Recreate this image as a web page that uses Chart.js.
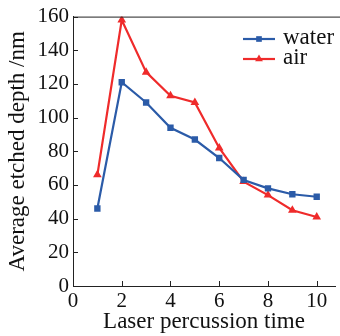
<!DOCTYPE html>
<html>
<head>
<meta charset="utf-8">
<script src="https://cdn.jsdelivr.net/npm/chart.js@4.4.0/dist/chart.umd.min.js"></script>
<style>
  html, body { margin: 0; padding: 0; background: #fff; }
  #wrap { width: 340px; height: 336px; }
</style>
</head>
<body>
<div id="wrap"><canvas id="plot" width="340" height="336"></canvas></div>
<script>
// laser percussion time (x) and etched depth (nm)
var times = [1, 2, 3, 4, 5, 6, 7, 8, 9, 10];
var waterDepth = [46, 121, 109, 94, 87, 76, 63, 58, 54.5, 53];
var airDepth = [66, 158, 127, 113, 109, 82, 62, 54, 45, 41];
var xTicks = [0, 2, 4, 6, 8, 10];
var yTicks = [0, 20, 40, 60, 80, 100, 120, 140, 160];

var blue = '#2b5ba8';
var red = '#ef2b2b';
var serif = '"Liberation Serif", "DejaVu Serif", serif';

function pts(ys) {
  return times.map(function (t, i) { return { x: t, y: ys[i] }; });
}

// inward ticks, top frame line and the line+marker legend
var extras = {
  id: 'extras',
  afterDraw: function (chart) {
    var ctx = chart.ctx, a = chart.chartArea;
    var xs = chart.scales.x, ys = chart.scales.y;
    ctx.save();
    ctx.strokeStyle = '#222';
    ctx.lineWidth = 1;
    ctx.beginPath();
    ctx.moveTo(a.left, a.top + 0.5);
    ctx.lineTo(chart.width, a.top + 0.5);
    xTicks.forEach(function (v) {
      var px = Math.round(xs.getPixelForValue(v)) + 0.5;
      ctx.moveTo(px, a.bottom);
      ctx.lineTo(px, a.bottom - 5);
    });
    yTicks.forEach(function (v) {
      var py = Math.round(ys.getPixelForValue(v)) + 0.5;
      ctx.moveTo(a.left, py);
      ctx.lineTo(a.left + 5, py);
    });
    ctx.stroke();

    // legend
    var lx = 243, ly = 39;
    chart.data.datasets.forEach(function (ds, i) {
      var y = ly + i * 20;
      ctx.strokeStyle = ds.borderColor;
      ctx.lineWidth = 2.2;
      ctx.beginPath();
      ctx.moveTo(lx, y);
      ctx.lineTo(lx + 32, y);
      ctx.stroke();
      ctx.fillStyle = ds.borderColor;
      Chart.helpers.drawPoint(ctx, { pointStyle: ds.pointStyle, radius: ds.pointRadius - 0.5, borderWidth: 0 }, lx + 16, y);
      ctx.fillStyle = '#111';
      ctx.font = '23px ' + serif;
      ctx.textBaseline = 'middle';
      ctx.fillText(ds.label, lx + 40, y - 1);
    });
    ctx.restore();
  }
};

new Chart(document.getElementById('plot'), {
  type: 'line',
  data: {
    datasets: [
      {
        label: 'water',
        data: pts(waterDepth),
        borderColor: blue,
        backgroundColor: blue,
        borderWidth: 2.2,
        pointStyle: 'rect',
        pointRadius: 4.5,
        pointBorderWidth: 0,
        tension: 0
      },
      {
        label: 'air',
        data: pts(airDepth),
        borderColor: red,
        backgroundColor: red,
        borderWidth: 2.2,
        pointStyle: 'triangle',
        pointRadius: 5,
        pointBorderWidth: 0,
        tension: 0
      }
    ]
  },
  options: {
    responsive: false,
    animation: false,
    layout: { padding: { top: 14, right: 0, left: 0, bottom: 0 } },
    plugins: { legend: { display: false }, tooltip: { enabled: false } },
    scales: {
      x: {
        type: 'linear',
        min: 0,
        max: 10.75,
        afterBuildTicks: function (s) { s.ticks = xTicks.map(function (v) { return { value: v }; }); },
        afterFit: function (s) { s.height = 50; },
        grid: { drawOnChartArea: false, drawTicks: false },
        border: { color: '#222', width: 1 },
        ticks: { color: '#111', font: { family: serif, size: 21 }, padding: 3, maxRotation: 0 },
        title: { display: true, text: 'Laser percussion time', color: '#111', font: { family: serif, size: 23 }, padding: 0 }
      },
      y: {
        min: 0,
        max: 160,
        afterBuildTicks: function (s) { s.ticks = yTicks.map(function (v) { return { value: v }; }); },
        afterFit: function (s) { s.width = 73; },
        grid: { drawOnChartArea: false, drawTicks: false },
        border: { color: '#222', width: 1 },
        ticks: { color: '#111', font: { family: serif, size: 21 }, padding: 4 },
        title: { display: true, text: 'Average etched depth /nm', color: '#111', font: { family: serif, size: 23 }, padding: { top: 4, bottom: 0 } }
      }
    }
  },
  plugins: [extras]
});
</script>
</body>
</html>
